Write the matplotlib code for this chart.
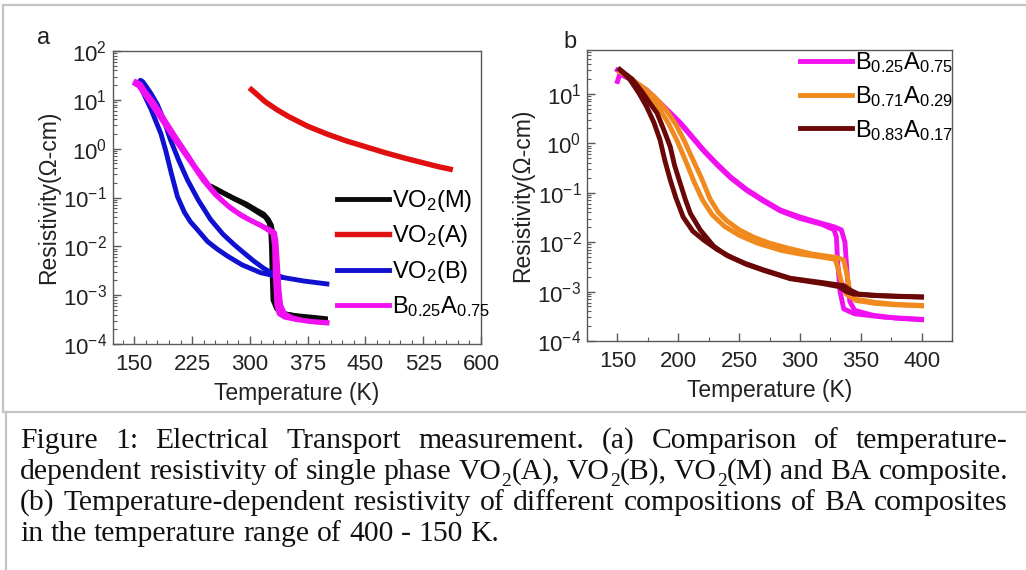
import numpy as np
import matplotlib
matplotlib.use("Agg")
import matplotlib.pyplot as plt
from matplotlib.lines import Line2D
from matplotlib.ticker import MultipleLocator, LogLocator, NullFormatter

plt.rcParams['font.family'] = ['Liberation Sans', 'DejaVu Sans']
plt.rcParams['mathtext.fontset'] = 'custom'
plt.rcParams['mathtext.rm'] = 'Liberation Sans'
plt.rcParams['mathtext.it'] = 'Liberation Sans:italic'
plt.rcParams['mathtext.bf'] = 'Liberation Sans:bold'

# values; resistivity given as log10(rho) per branch

# ---- panel a ----
m_heat_T = [251, 265, 280, 295, 310, 318, 324, 328, 330, 331, 332, 333, 335, 340, 350, 365, 380, 398]
m_heat_L = [-0.78, -0.90, -1.02, -1.13, -1.27, -1.34, -1.45, -1.57, -1.75, -2.2, -2.8, -3.15, -3.28, -3.36, -3.40, -3.44, -3.47, -3.50]
m_cool_T = [398, 380, 360, 345, 338, 334, 330, 329, 328, 327, 325, 320, 310, 300, 290, 275, 260, 252]
m_cool_L = [-3.48, -3.45, -3.42, -3.38, -3.33, -3.25, -3.1, -2.6, -2.0, -1.68, -1.52, -1.40, -1.30, -1.20, -1.11, -0.99, -0.86, -0.80]

a_T = [302, 310, 320, 335, 350, 375, 400, 425, 450, 475, 500, 525, 545, 560]
a_L = [1.21, 1.10, 0.96, 0.80, 0.66, 0.46, 0.30, 0.16, 0.04, -0.08, -0.19, -0.29, -0.37, -0.42]

b_cool_T = [400, 370, 340, 314, 290, 271, 258, 245, 232, 223, 215, 206, 198, 191, 184.5, 178, 172, 166, 160, 156]
b_cool_L = [-2.77, -2.71, -2.63, -2.54, -2.38, -2.2, -2.06, -1.90, -1.66, -1.5, -1.3, -0.98, -0.50, -0.05, 0.31, 0.56, 0.80, 1.00, 1.20, 1.36]
b_heat_T = [156, 158, 161, 166, 172, 180, 188, 197, 208, 219, 233, 249, 265, 280, 292, 305, 318, 330, 340]
b_heat_L = [1.36, 1.40, 1.37, 1.26, 1.12, 0.90, 0.60, 0.18, -0.25, -0.64, -1.05, -1.45, -1.75, -1.97, -2.13, -2.30, -2.45, -2.56, -2.62]

ba_heat_T = [152, 158, 165, 175, 185, 195, 206, 218, 229, 240, 250, 262, 275, 290, 305, 318, 326, 332, 334, 336, 338, 340, 345, 355, 370, 385, 400]
ba_heat_L = [1.37, 1.32, 1.15, 0.95, 0.70, 0.45, 0.18, -0.10, -0.37, -0.60, -0.82, -1.03, -1.22, -1.38, -1.50, -1.60, -1.66, -1.72, -1.9, -2.4, -2.9, -3.2, -3.38, -3.46, -3.52, -3.55, -3.57]
ba_cool_T = [400, 380, 360, 345, 338, 335, 333, 332, 330, 325, 315, 300, 285, 270, 255, 240, 228, 215, 204, 193, 182, 172, 163, 156, 151]
ba_cool_L = [-3.56, -3.54, -3.50, -3.45, -3.38, -3.2, -2.6, -2.0, -1.74, -1.68, -1.58, -1.46, -1.32, -1.15, -0.94, -0.66, -0.38, -0.09, 0.16, 0.42, 0.68, 0.92, 1.12, 1.28, 1.33]

# ---- panel b ----
p_heat_T = [150, 152, 160, 174, 188, 202, 212, 221, 232, 243, 256, 270, 284, 300, 315, 328, 334, 337, 339, 341, 345, 360, 380, 400]
p_heat_L = [1.25, 1.40, 1.30, 1.08, 0.75, 0.41, 0.12, -0.14, -0.42, -0.68, -0.93, -1.15, -1.35, -1.49, -1.60, -1.69, -1.75, -2.0, -2.7, -3.2, -3.38, -3.48, -3.54, -3.57]
p_cool_T = [400, 370, 345, 336, 333, 331, 330, 328, 318, 300, 284, 270, 256, 243, 232, 221, 212, 202, 188, 174, 160, 152, 150]
p_cool_L = [-3.56, -3.52, -3.45, -3.35, -3.0, -2.4, -1.9, -1.75, -1.64, -1.52, -1.37, -1.17, -0.95, -0.70, -0.44, -0.16, 0.10, 0.39, 0.73, 1.06, 1.32, 1.45, 1.48]

o_cool_T = [400, 380, 362, 346, 338, 334, 331, 329, 320, 300, 285, 265, 250, 238, 228, 220, 213, 206, 199, 192, 185, 175, 165, 158, 152]
o_cool_L = [-3.29, -3.27, -3.24, -3.18, -3.05, -2.8, -2.5, -2.35, -2.31, -2.24, -2.17, -2.02, -1.86, -1.68, -1.45, -1.15, -0.78, -0.35, 0.05, 0.40, 0.68, 0.98, 1.20, 1.35, 1.45]
o_heat_T = [152, 160, 170, 180, 190, 198, 205, 212, 219, 226, 233, 240, 250, 262, 275, 290, 310, 330, 336, 339, 341, 345, 362, 380, 400]
o_heat_L = [1.45, 1.32, 1.15, 0.95, 0.68, 0.38, 0.05, -0.33, -0.70, -1.12, -1.40, -1.57, -1.75, -1.90, -2.02, -2.12, -2.24, -2.31, -2.36, -2.7, -3.0, -3.15, -3.22, -3.26, -3.28]

d_cool_T = [400, 380, 360, 344, 338, 332, 319, 292, 270, 256, 243, 232, 221, 212, 204, 198, 193.4, 189, 185, 180, 174, 168, 160, 152]
d_cool_L = [-3.11, -3.10, -3.08, -3.05, -3.0, -2.90, -2.84, -2.74, -2.57, -2.45, -2.30, -2.15, -1.96, -1.78, -1.49, -1.1, -0.74, -0.35, 0.07, 0.42, 0.74, 1.0, 1.30, 1.49]
d_heat_T = [152, 162, 170, 177, 182.6, 188, 193.4, 197, 201.6, 206, 210, 218, 229, 240, 255, 270, 292, 319, 330, 336, 342, 348, 365, 400]
d_heat_L = [1.49, 1.30, 1.05, 0.80, 0.61, 0.28, -0.07, -0.45, -0.81, -1.15, -1.42, -1.75, -2.08, -2.27, -2.43, -2.56, -2.73, -2.82, -2.86, -2.88, -2.98, -3.05, -3.08, -3.11]

labels_a = ['VO$_2$(M)', 'VO$_2$(A)', 'VO$_2$(B)', 'B$_{0.25}$A$_{0.75}$']
labels_b = ['B$_{0.25}$A$_{0.75}$', 'B$_{0.71}$A$_{0.29}$', 'B$_{0.83}$A$_{0.17}$']

c_black, c_red, c_blue, c_mag = '#0a0a0a', '#e01010', '#1010d0', '#f010f0'
c_orange, c_dark = '#f08a1e', '#6a0808'

W, H = 1026, 570
fig = plt.figure(figsize=(W / 100, H / 100), dpi=100)


def box(l, t, r, b):
    return [l / W, 1 - b / H, (r - l) / W, (b - t) / H]


def rho(L):
    return np.power(10.0, L)


def style(ax):
    for s in ax.spines.values():
        s.set_color('#5a5a5a')
        s.set_linewidth(1.0)
    ax.set_yscale('log')
    ax.yaxis.set_major_locator(LogLocator(base=10, numticks=10))
    ax.yaxis.set_minor_locator(LogLocator(base=10, subs=np.arange(2, 10), numticks=10))
    ax.yaxis.set_minor_formatter(NullFormatter())
    ax.tick_params(which='both', direction='in', top=False, right=False,
                   colors='#5a5a5a', labelcolor='#222222', labelsize=16)
    ax.tick_params(axis='x', which='major', pad=7)
    ax.tick_params(axis='y', which='major', pad=4)
    ax.tick_params(which='major', length=6, width=1)
    ax.tick_params(which='minor', length=3, width=0.8)
    ax.set_xlabel('Temperature (K)', fontsize=16.5, color='#222222', labelpad=5)
    ax.set_ylabel('Resistivity(\u03a9-cm)', fontsize=16.5, color='#222222', labelpad=2)


lw = 3.5
leg_kw = dict(bbox_transform=fig.transFigure, frameon=False, fontsize=17,
              handlelength=2.2, handletextpad=0.15, borderpad=0, borderaxespad=0,
              loc='upper left')

# panel a
ax1 = fig.add_axes(box(112.7, 51, 481, 344))
style(ax1)
ax1.plot(m_heat_T, rho(m_heat_L), color=c_black, lw=lw, label=labels_a[0])
ax1.plot(m_cool_T, rho(m_cool_L), color=c_black, lw=lw)
ax1.plot(a_T, rho(a_L), color=c_red, lw=lw + 0.4, label=labels_a[1])
ax1.plot(b_cool_T, rho(b_cool_L), color=c_blue, lw=lw, label=labels_a[2])
ax1.plot(b_heat_T, rho(b_heat_L), color=c_blue, lw=lw)
ax1.plot(ba_heat_T, rho(ba_heat_L), color=c_mag, lw=lw, label=labels_a[3])
ax1.plot(ba_cool_T, rho(ba_cool_L), color=c_mag, lw=lw)
ax1.set_xlim(122, 600)
ax1.set_ylim(1e-4, 1e2)
ax1.xaxis.set_major_locator(MultipleLocator(75))
ax1.xaxis.set_minor_locator(MultipleLocator(15))
ax1.legend(bbox_to_anchor=(337 / W, 1 - 188 / H), labelspacing=0.40, **leg_kw)
fig.text(37 / W, 1 - 44 / H, 'a', fontsize=17, color='#222222')

# panel b
ax2 = fig.add_axes(box(587, 50, 952, 341))
style(ax2)
ax2.plot(p_heat_T, rho(p_heat_L), color=c_mag, lw=lw, label=labels_b[0])
ax2.plot(p_cool_T, rho(p_cool_L), color=c_mag, lw=lw)
ax2.plot(o_cool_T, rho(o_cool_L), color=c_orange, lw=lw, label=labels_b[1])
ax2.plot(o_heat_T, rho(o_heat_L), color=c_orange, lw=lw)
ax2.plot(d_cool_T, rho(d_cool_L), color=c_dark, lw=lw, label=labels_b[2])
ax2.plot(d_heat_T, rho(d_heat_L), color=c_dark, lw=lw)
ax2.set_xlim(125, 425)
ax2.set_ylim(1e-4, 77)
ax2.xaxis.set_major_locator(MultipleLocator(50))
ax2.xaxis.set_minor_locator(MultipleLocator(25))
ax2.legend(bbox_to_anchor=(800 / W, 1 - 50 / H), labelspacing=0.38, **leg_kw)
fig.text(563 / W, 1 - 48 / H, 'b', fontsize=17, color='#222222')

# frame lines
gray = '#c4c4c4'
for (x0, y0, x1, y1) in [(3, 5, W, 5), (3, 5, 3, 412), (5, 412, W, 412), (6, 412, 6, H)]:
    fig.add_artist(Line2D([x0 / W, x1 / W], [1 - y0 / H, 1 - y1 / H],
                          transform=fig.transFigure, color=gray, lw=1.6))

# caption, justified
cap_lines = [
    "Figure 1: Electrical Transport measurement. (a) Comparison of temperature-",
    "dependent resistivity of single phase VO_2(A), VO_2(B), VO_2(M) and BA composite.",
    "(b) Temperature-dependent resistivity of different compositions of BA composites",
    "in the temperature range of 400 - 150 K.",
]
cap_base = [448, 479, 510, 541]
cap_x0, cap_x1 = 20, 1008
serif = 'Liberation Serif'
r = fig.canvas.get_renderer()


def parts(word):
    out = []
    for i, p in enumerate(word.split('_')):
        if i == 0:
            out.append((p, False))
        else:
            out.append((p[0], True))
            if p[1:]:
                out.append((p[1:], False))
    return [o for o in out if o[0]]


def width(txt, size):
    t = fig.text(0, 0, txt, fontsize=size, family=serif)
    w = t.get_window_extent(renderer=r).width
    t.remove()
    return w


def word_w(word, size):
    return sum(width(p, size * (0.65 if s else 1)) for p, s in parts(word))


# pick size so that line 2 fits its natural width
ref = 20.0
sp_ref = width('a a', ref) - width('aa', ref)
words2 = cap_lines[1].split()
nat = sum(word_w(w, ref) for w in words2) + sp_ref * (len(words2) - 1)
fs = ref * (cap_x1 - cap_x0) / nat
space = width('a a', fs) - width('aa', fs)

for i, line in enumerate(cap_lines):
    words = line.split()
    ws = [word_w(w, fs) for w in words]
    if i < len(cap_lines) - 1:
        gap = (cap_x1 - cap_x0 - sum(ws)) / (len(words) - 1)
    else:
        gap = space
    x = cap_x0
    yb = cap_base[i]
    for w, ww in zip(words, ws):
        xx = x
        for p, s in parts(w):
            size = fs * 0.65 if s else fs
            dy = fs * 100 / 72 * 0.22 if s else 0
            fig.text(xx / W, 1 - (yb + dy) / H, p, fontsize=size, family=serif,
                     va='baseline', ha='left', color='#111111')
            xx += width(p, size)
        x += ww + gap

fig.savefig('out.png', dpi=100)
